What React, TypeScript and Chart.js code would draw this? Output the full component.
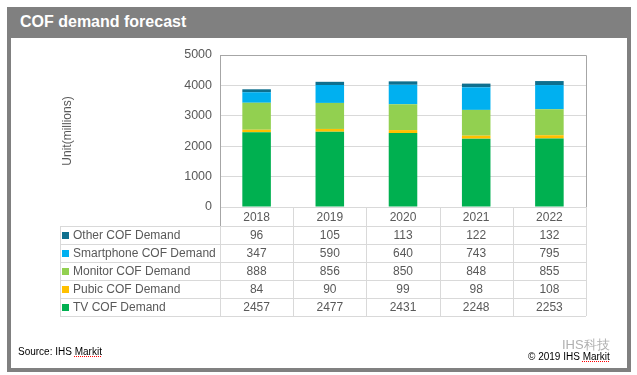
import React, { useEffect, useRef } from "react";
import { Chart, registerables } from "chart.js";

Chart.register(...registerables);

const years = ["2018", "2019", "2020", "2021", "2022"];
const tvDemand = [2457, 2477, 2431, 2248, 2253];
const pubicDemand = [84, 90, 99, 98, 108];
const monitorDemand = [888, 856, 850, 848, 855];
const smartphoneDemand = [347, 590, 640, 743, 795];
const otherDemand = [96, 105, 113, 122, 132];
const yMax = 5000;
const yStep = 1000;

const seriesLabels = ["TV COF Demand", "Pubic COF Demand", "Monitor COF Demand", "Smartphone COF Demand", "Other COF Demand"];
const seriesData = [tvDemand, pubicDemand, monitorDemand, smartphoneDemand, otherDemand];
const seriesColors = ["#00b050", "#ffc000", "#92d050", "#00b0f0", "#0e6f8e"];

const FONT = 'Arial, "Liberation Sans", sans-serif';
const TEXT = "#595959";

const tablePlugin = {
  id: "dataTable",
  afterDraw(chart: any) {
    const ctx = chart.ctx;
    const area = chart.chartArea;
    const xs = chart.scales.x;
    const n = years.length;
    const cw = (area.right - area.left) / n;
    const tableLeft = 49;
    const yearRowH = 19;
    const rowH = 18;
    const rowsTop = area.bottom + yearRowH;
    const tableBottom = rowsTop + rowH * seriesLabels.length;
    ctx.save();
    ctx.strokeStyle = "#a6a6a6";
    ctx.lineWidth = 1;
    ctx.beginPath();
    ctx.moveTo(area.left, Math.round(area.top) + 0.5);
    ctx.lineTo(Math.round(area.right) + 0.5, Math.round(area.top) + 0.5);
    ctx.lineTo(Math.round(area.right) + 0.5, Math.round(area.bottom) + 0.5);
    ctx.stroke();
    ctx.strokeStyle = "#d9d9d9";
    ctx.beginPath();
    for (let i = 0; i <= n; i++) {
      const x = Math.round(area.left + i * cw) + 0.5;
      ctx.moveTo(x, area.bottom);
      ctx.lineTo(x, tableBottom);
    }
    for (let r = 0; r <= seriesLabels.length; r++) {
      const y = Math.round(rowsTop + r * rowH) + 0.5;
      ctx.moveTo(tableLeft, y);
      ctx.lineTo(area.right, y);
    }
    ctx.moveTo(tableLeft + 0.5, rowsTop);
    ctx.lineTo(tableLeft + 0.5, tableBottom);
    ctx.stroke();
    ctx.strokeStyle = "#a6a6a6";
    ctx.beginPath();
    ctx.moveTo(Math.round(area.left) + 0.5, area.bottom);
    ctx.lineTo(Math.round(area.left) + 0.5, rowsTop);
    ctx.stroke();
    ctx.font = `12px ${FONT}`;
    ctx.fillStyle = TEXT;
    ctx.textAlign = "center";
    ctx.textBaseline = "middle";
    years.forEach((y, i) => {
      ctx.fillText(y, xs.getPixelForValue(i), area.bottom + yearRowH / 2 + 1);
    });
    const order = [4, 3, 2, 1, 0];
    order.forEach((si, r) => {
      const cy = rowsTop + r * rowH + rowH / 2 + 1;
      ctx.fillStyle = seriesColors[si];
      ctx.fillRect(tableLeft + 2, cy - 4, 7, 7);
      ctx.fillStyle = TEXT;
      ctx.textAlign = "left";
      ctx.fillText(seriesLabels[si], tableLeft + 13, cy);
      ctx.textAlign = "center";
      seriesData[si].forEach((v, i) => {
        ctx.fillText(String(v), xs.getPixelForValue(i), cy);
      });
    });
    ctx.translate(57, (area.top + area.bottom) / 2);
    ctx.rotate(-Math.PI / 2);
    ctx.textAlign = "center";
    ctx.fillStyle = TEXT;
    ctx.fillText("Unit(millions)", 0, 0);
    ctx.restore();
  },
};

export default function App() {
  const ref = useRef<HTMLCanvasElement>(null);
  useEffect(() => {
    if (!ref.current) return;
    const chart = new Chart(ref.current, {
      type: "bar",
      data: {
        labels: years,
        datasets: seriesLabels.map((l, i) => ({
          label: l,
          data: seriesData[i],
          backgroundColor: seriesColors[i],
          borderWidth: 0,
          barPercentage: 0.39,
          categoryPercentage: 1,
        })),
      },
      options: {
        responsive: false,
        animation: false,
        devicePixelRatio: 1,
        layout: { padding: { left: 0, top: 17, right: 41, bottom: 161 } },
        plugins: { legend: { display: false }, tooltip: { enabled: false }, title: { display: false } },
        scales: {
          x: { stacked: true, display: false },
          y: {
            stacked: true,
            min: 0,
            max: yMax,
            afterFit: (s: any) => {
              s.width = 209;
            },
            ticks: {
              stepSize: yStep,
              padding: 8,
              color: TEXT,
              font: { family: FONT, size: 12.5 },
              callback: (v: any) => String(v),
            },
            grid: { color: "#d9d9d9", drawTicks: false },
            border: { display: true, color: "#a6a6a6" },
          },
        },
      },
      plugins: [tablePlugin],
    });
    return () => chart.destroy();
  }, []);

  return (
    <div style={{ position: "absolute", left: 0, top: 0, width: 637, height: 375, background: "#fff", fontFamily: FONT }}>
      <div
        style={{
          position: "absolute",
          left: 7,
          top: 7,
          width: 616,
          height: 330,
          borderLeft: "4px solid #808080",
          borderRight: "4px solid #808080",
          borderBottom: "4px solid #808080",
          borderTop: "31px solid #808080",
        }}
      />
      <div style={{ position: "absolute", left: 20, top: 12, color: "#fff", fontWeight: "bold", fontSize: 16, lineHeight: "20px" }}>
        COF demand forecast
      </div>
      <canvas ref={ref} width={616} height={330} style={{ position: "absolute", left: 11, top: 38, width: 616, height: 330 }} />
      <div style={{ position: "absolute", left: 18, top: 346, fontSize: 10, color: "#000", lineHeight: "12px" }}>
        Source: IHS <span style={{ textDecoration: "underline dotted red" }}>Markit</span>
      </div>
      <div style={{ position: "absolute", left: 562, top: 338, fontSize: 13, color: "#b0b0b0", lineHeight: "14px" }}>IHS科技</div>
      <div style={{ position: "absolute", left: 528, top: 351, fontSize: 10, color: "#000", lineHeight: "12px" }}>
        © 2019 IHS <span style={{ textDecoration: "underline dotted red" }}>Markit</span>
      </div>
    </div>
  );
}
